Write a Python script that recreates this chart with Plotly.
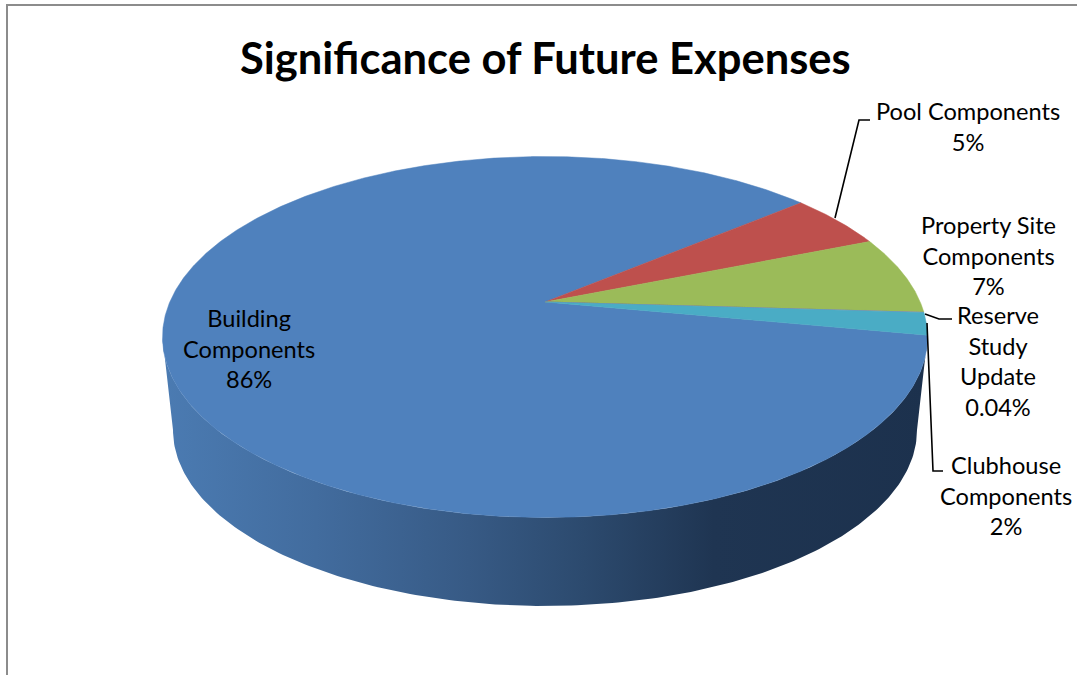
import math
import numpy as np
import plotly.graph_objects as go

# Chart content
TITLE = "Significance of Future Expenses"
categories = ["Building<br>Components", "Pool Components", "Property Site<br>Components",
              "Reserve<br>Study<br>Update", "Clubhouse<br>Components"]
shares = [86, 5, 7, 0.04, 2]
slice_colors = ["#4F81BD", "#BE504D", "#9BBB59", "#8064A2", "#4AACC5"]

# Tilted-disc geometry, in the pixel units of the hidden axes
FIRST_ANGLE = 100.6
TOP = dict(cx=545.0, cy=337.0, rx=382.5, ry=180.5)
BASE = dict(cx=545.0, cy=430.0, rx=372.0, ry=176.0)
APEX_Y = 302.0
shift = (APEX_Y - TOP["cy"]) / TOP["ry"]


def rim(deg):
    """Point on the top rim for a clockwise angle from twelve o'clock, in perspective."""
    a = np.radians(deg)
    x, y = np.sin(a), -np.cos(a)
    denom = 1 + shift * y
    ex = x * math.sqrt(1 - shift ** 2) / denom
    ey = (y + shift) / denom
    return TOP["cx"] + TOP["rx"] * ex, TOP["cy"] + TOP["ry"] * ey


def ellipse_arc(e, start, stop, n=200):
    t = np.radians(np.linspace(start, stop, n))
    return e["cx"] + e["rx"] * np.cos(t), e["cy"] + e["ry"] * np.sin(t)


fig = go.Figure()

# Side wall: front half of the top rim joined to the front half of the base
tx, ty = ellipse_arc(TOP, 180, 0)
bx, by = ellipse_arc(BASE, 0, 180)
fig.add_trace(go.Scatter(
    x=np.r_[tx, bx], y=np.r_[ty, by], mode="lines", fill="toself",
    line=dict(width=0), hoverinfo="skip", showlegend=False,
    fillgradient=dict(
        type="horizontal", start=163, stop=928,
        colorscale=[[0, "#4B7BB2"], [0.2, "#426C9E"], [0.4, "#375A85"],
                    [0.55, "#2C4A6E"], [0.72, "#1F3552"], [1, "#1C314D"]],
    ),
))

# Top face slices, computed from the shares
total = sum(shares)
angle = FIRST_ANGLE
for name, value, color in zip(categories, shares, slice_colors):
    sweep = 360 * value / total
    rx_, ry_ = rim(np.linspace(angle, angle + sweep, max(3, int(sweep * 3))))
    fig.add_trace(go.Scatter(
        x=np.r_[TOP["cx"], rx_, TOP["cx"]], y=np.r_[APEX_Y, ry_, APEX_Y],
        mode="lines", fill="toself", fillcolor=color,
        line=dict(color=color, width=0.5), name=name.replace("<br>", " "),
        hoverinfo="name", showlegend=False,
    ))
    angle += sweep

# Leader lines from the labels to their slices
leaders = [
    ([835, 859, 870], [218, 120, 120]),
    ([925, 939, 952], [314, 319, 319]),
    ([927, 933, 943], [323, 471, 471]),
]
for lx, ly in leaders:
    fig.add_trace(go.Scatter(x=lx, y=ly, mode="lines", hoverinfo="skip", showlegend=False,
                             line=dict(color="#000000", width=1.6)))

# Data labels: category name over its percentage
label_centres = [(249, 348.5), (968, 126), (988, 255.5), (998, 360.5), (1006, 495)]
annotations = [
    dict(x=x, y=y, xref="x", yref="y", showarrow=False, align="center",
         text=f"{name}<br>{value:g}%",
         font=dict(family="Lato", size=23.6, color="#000000"))
    for name, value, (x, y) in zip(categories, shares, label_centres)
]
annotations.append(dict(x=545, y=57, xref="x", yref="y", showarrow=False, text=f"<b>{TITLE}</b>",
                        font=dict(family="Lato", size=43.5, color="#000000")))

fig.update_layout(
    width=1077, height=675, margin=dict(l=0, r=0, t=0, b=0),
    paper_bgcolor="#FFFFFF", plot_bgcolor="#FFFFFF", annotations=annotations,
    xaxis=dict(range=[0, 1077], visible=False, fixedrange=True),
    yaxis=dict(range=[675, 0], visible=False, fixedrange=True),
    # Chart-area border, cut off on the right and at the bottom
    shapes=[dict(type="line", x0=7, x1=7, y0=5, y1=675, line=dict(color="#8C8C8C", width=2)),
            dict(type="line", x0=6, x1=1077, y0=5, y1=5, line=dict(color="#8C8C8C", width=2))],
)

fig.write_html("out.html", config=dict(displayModeBar=False))
